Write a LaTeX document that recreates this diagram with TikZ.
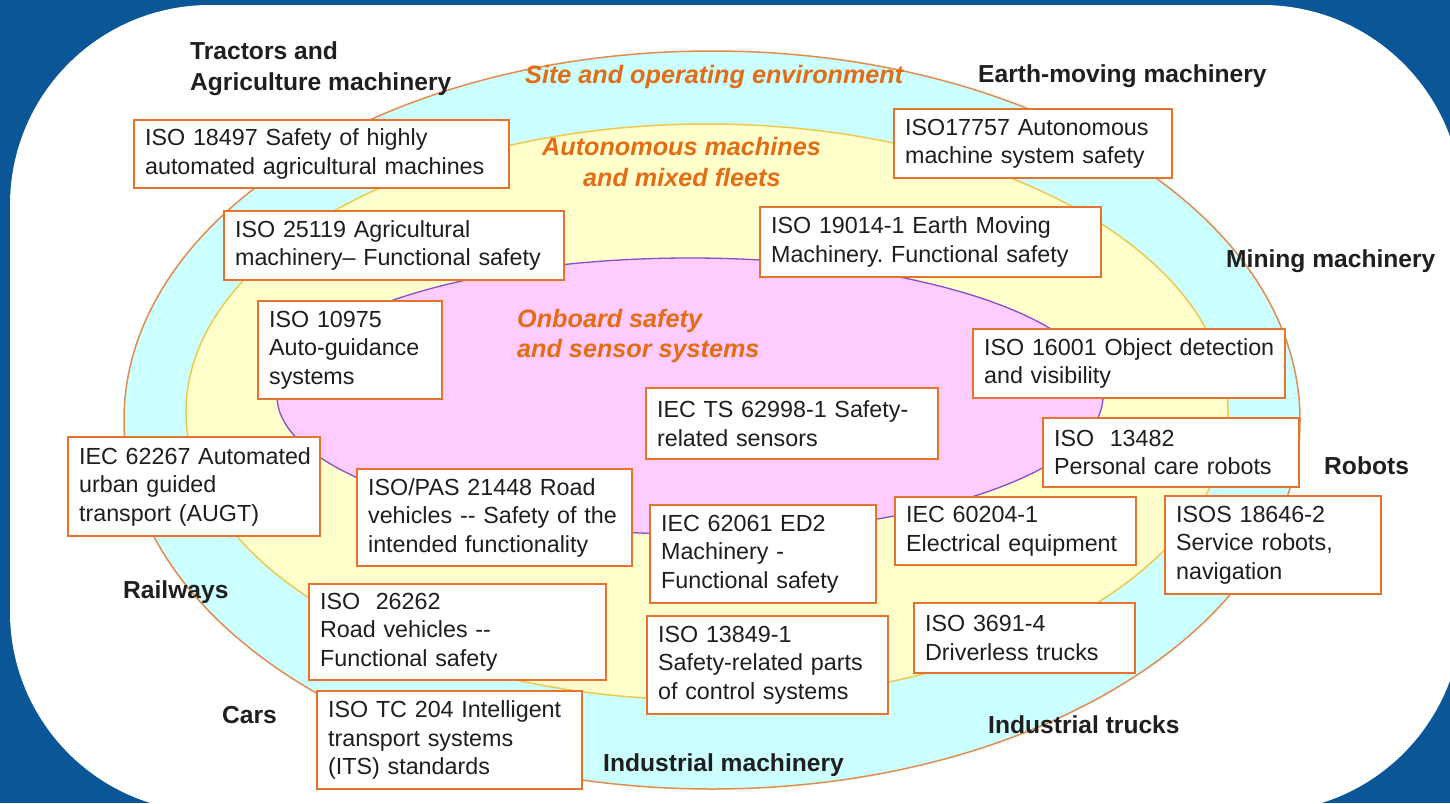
\documentclass[tikz,border=0pt]{standalone}
\usepackage{fontspec}
\setmainfont{Liberation Sans}
\definecolor{bgblue}{RGB}{10,86,150}
\definecolor{cyanfill}{RGB}{204,255,255}
\definecolor{yelfill}{RGB}{255,255,204}
\definecolor{pinkfill}{RGB}{255,204,255}
\definecolor{outerline}{RGB}{226,140,80}
\definecolor{midline}{RGB}{240,200,80}
\definecolor{innerline}{RGB}{130,80,200}
\definecolor{boxor}{RGB}{230,115,45}
\definecolor{zoneor}{RGB}{228,108,20}
\definecolor{textgray}{RGB}{30,30,30}
\newcommand\nb[1]{\mbox{#1}}
\frenchspacing
\begin{document}
\begin{tikzpicture}[x=1pt,y=-1pt,
  box/.style={draw=boxor, line width=2.2pt, fill=white, inner xsep=11pt, inner ysep=3pt,
    align=left, anchor=north west, text=textgray, font=\fontsize{23.3}{28.5}\selectfont},
  cat/.style={font=\fontsize{24.6}{30}\selectfont\bfseries, text=black!88, anchor=base west, inner sep=0pt},
  zone/.style={font=\fontsize{25.2}{31}\selectfont\bfseries\itshape, text=zoneor, anchor=base west, inner sep=0pt}]
\useasboundingbox (0,0) rectangle (1450,803);
\fill[bgblue] (0,0) rectangle (1450,803);
\fill[white, rounded corners=200pt] (10,5) rectangle (1462,812);
% zones
\draw[fill=cyanfill, draw=outerline, line width=1.5pt] (712,420) ellipse [x radius=588pt, y radius=369pt];
\draw[fill=yelfill, draw=midline, line width=1.5pt] (707,412) ellipse [x radius=521pt, y radius=288pt];
\draw[fill=pinkfill, draw=innerline, line width=1.3pt] (690,396) ellipse [x radius=413pt, y radius=138pt];
% zone titles
\node[zone] (z1) at (525,83) {Site and operating environment};
\node[zone] (z2a) at (542,155) {Autonomous machines};
\node[zone] (z2b) at (583,186) {and mixed fleets};
\node[zone] (z3a) at (517,327) {Onboard safety};
\node[zone] (z3b) at (517,357) {and sensor systems};
% categories
\node[cat] (c1a) at (190,59) {Tractors and};
\node[cat] (c1b) at (190,90) {Agriculture machinery};
\node[cat] (c2) at (978,82) {Earth-moving machinery};
\node[cat] (c3) at (1226,267) {Mining machinery};
\node[cat] (c4) at (1324,474) {Robots};
\node[cat] (c5) at (988,733) {Industrial trucks};
\node[cat] (c6) at (603,771) {Industrial machinery};
\node[cat] (c7) at (123,598) {Railways};
\node[cat] (c8) at (222,723) {Cars};
% standards boxes
\node[box, text width=353pt, minimum height=68pt] (b1) at (133,119) {\nb{ISO 18497 Safety of highly}\\\nb{automated agricultural machines}};
\node[box, text width=318pt, minimum height=69pt] (b2) at (223,210) {\nb{ISO 25119 Agricultural}\\\nb{machinery– Functional safety}};
\node[box, text width=162pt, minimum height=98pt] (b3) at (257,300) {\nb{ISO 10975}\\\nb{Auto-guidance}\\\nb{systems}};
\node[box, text width=230pt, minimum height=99pt] (b4) at (67,436) {\nb{IEC 62267 Automated}\\\nb{urban guided}\\\nb{transport (AUGT)}};
\node[box, text width=253pt, minimum height=97pt] (b5) at (356,468) {\nb{ISO/PAS 21448 Road}\\\nb{vehicles -{}- Safety of the}\\\nb{intended functionality}};
\node[box, text width=275pt, minimum height=96pt] (b6) at (308,583) {\nb{ISO\ \ 26262}\\\nb{Road vehicles -{}-}\\\nb{Functional safety}};
\node[box, text width=243pt, minimum height=98pt] (b7) at (316,690) {\nb{ISO TC 204 Intelligent}\\\nb{transport systems}\\\nb{(ITS) standards}};
\node[box, text width=270pt, minimum height=71pt] (b8) at (645,387) {\nb{IEC TS 62998-1 Safety-}\\\nb{related sensors}};
\node[box, text width=204pt, minimum height=98pt] (b9) at (649,504) {\nb{IEC 62061 ED2}\\\nb{Machinery -}\\\nb{Functional safety}};
\node[box, text width=219pt, minimum height=98pt] (b10) at (646,615) {\nb{ISO 13849-1}\\\nb{Safety-related parts}\\\nb{of control systems}};
\node[box, text width=219pt, minimum height=68pt] (b11) at (894,496) {\nb{IEC 60204-1}\\\nb{Electrical equipment}};
\node[box, text width=199pt, minimum height=70pt] (b12) at (913,602) {\nb{ISO 3691-4}\\\nb{Driverless trucks}};
\node[box, text width=234pt, minimum height=69pt] (b13) at (1042,417) {\nb{ISO\ \ 13482}\\\nb{Personal care robots}};
\node[box, text width=194pt, minimum height=98pt] (b14) at (1164,495) {\nb{ISOS 18646-2}\\\nb{Service robots,}\\\nb{navigation}};
\node[box, text width=290pt, minimum height=69pt] (b15) at (972,328) {\nb{ISO 16001 Object detection}\\\nb{and visibility}};
\node[box, text width=319pt, minimum height=70pt] (b16) at (759,206) {\nb{ISO 19014-1 Earth Moving}\\\nb{Machinery. Functional safety}};
\node[box, text width=256pt, minimum height=69pt] (b17) at (893,108) {\nb{ISO17757 Autonomous}\\\nb{machine system safety}};
\end{tikzpicture}
\end{document}
